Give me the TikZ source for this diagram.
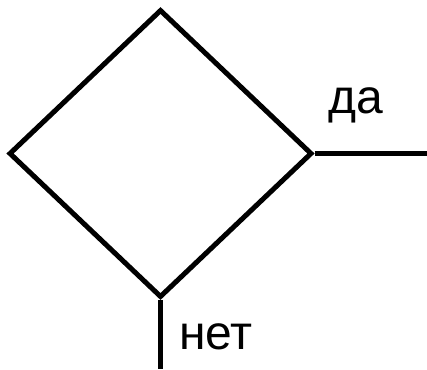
\documentclass[tikz,border=0pt]{standalone}
\usepackage{fontspec}
\setmainfont{Liberation Sans}
\usetikzlibrary{shapes.geometric}

\begin{document}
\begin{tikzpicture}[x=1pt,y=-1pt,line width=5pt,
	lbl/.style={font=\fontsize{48}{54}\selectfont,inner sep=0pt,anchor=base}]
	\useasboundingbox (0,0) rectangle (427,369);
	\node[draw,diamond,minimum width=303pt,minimum height=288pt,inner sep=0pt] (cond) at (160.5,153.5){};
	\coordinate (yes) at (427,153.5);
	\coordinate (no) at (160.5,369);
	
	\draw (cond.east)--(yes);
	\draw (cond.south)--(no);
	\node[lbl] (da) at (356,113){да};
	\node[lbl] (net) at (216,349){нет};
\end{tikzpicture}
\end{document}
